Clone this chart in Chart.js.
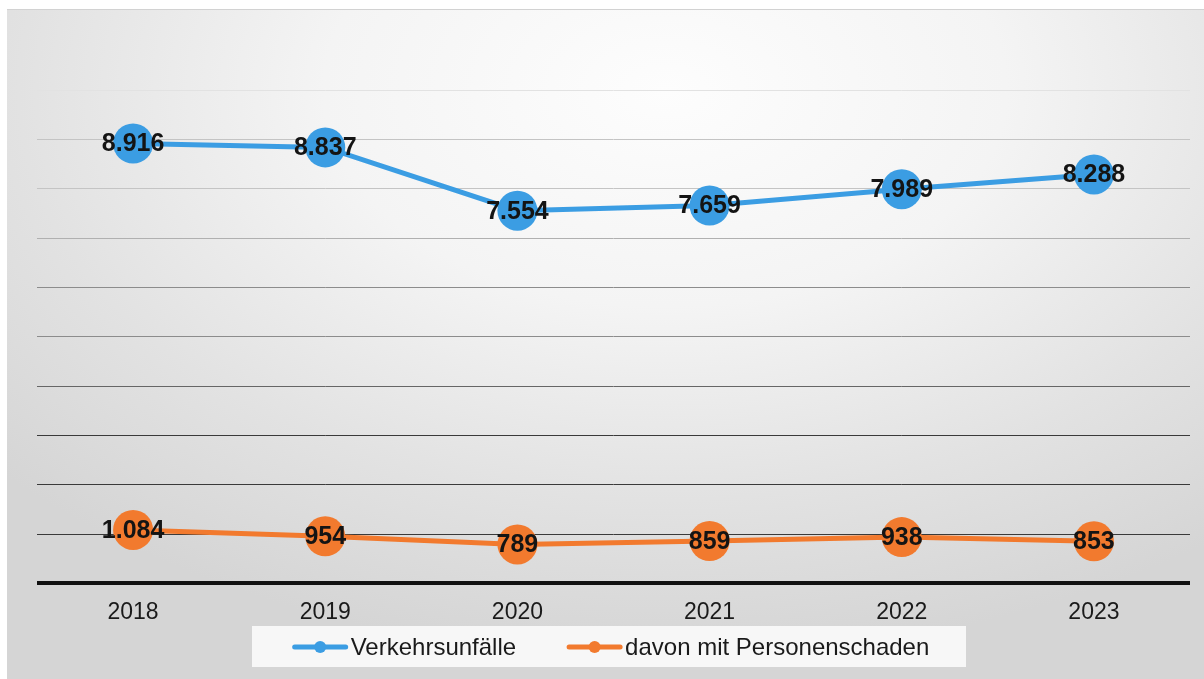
<!DOCTYPE html>
<html>
<head>
<meta charset="utf-8">
<script src="https://cdn.jsdelivr.net/npm/chart.js@4.4.1/dist/chart.umd.min.js"></script>
<style>
  html, body { margin: 0; padding: 0; background: #fff; }
  #wrap { position: relative; width: 1204px; height: 679px; overflow: hidden; }
  #paper {
    position: absolute; left: 7px; top: 9px; right: 0; bottom: 0;
    border-top: 1px solid #d2d2d2;
    background: radial-gradient(ellipse 75% 85% at 55% 12%, #fdfdfd 0%, #f4f4f4 38%, #e2e2e2 72%, #d5d5d5 100%);
  }
  #chart { position: absolute; left: 0; top: 0; }
</style>
</head>
<body>
<div id="wrap">
  <div id="paper"></div>
  <canvas id="chart" width="1204" height="679"></canvas>
</div>
<script>
  const years = ['2018', '2019', '2020', '2021', '2022', '2023'];
  const unfaelle = [8916, 8837, 7554, 7659, 7989, 8288];
  const personen = [1084, 954, 789, 859, 938, 853];
  const seriesNames = ['Verkehrsunfälle', 'davon mit Personenschaden'];
  const yMax = 10000;
  const yStep = 1000;

  const BLUE = '#3b9de3';
  const ORANGE = '#f27a2e';
  const FONT = '"Liberation Sans", Arial, sans-serif';

  function fmtDE(n) {
    return String(n).replace(/\B(?=(\d{3})+(?!\d))/g, '.');
  }

  function gridColor(v) {
    if (v === 0) return '#111';
    if (v >= 10000) return '#e2e2e2';
    if (v >= 8000) return '#c4c4c4';
    if (v >= 7000) return '#b0b0b0';
    if (v >= 5000) return '#8c8c8c';
    if (v >= 4000) return '#666';
    return '#3a3a3a';
  }

  // value labels centred on each marker
  const valueLabels = {
    id: 'valueLabels',
    afterDatasetsDraw(chart) {
      const ctx = chart.ctx;
      ctx.save();
      ctx.font = 'bold 25px ' + FONT;
      ctx.fillStyle = '#141414';
      ctx.textAlign = 'center';
      ctx.textBaseline = 'middle';
      chart.data.datasets.forEach((ds, i) => {
        chart.getDatasetMeta(i).data.forEach((pt, j) => {
          ctx.fillText(fmtDE(ds.data[j]), pt.x, pt.y + 1);
        });
      });
      ctx.restore();
    }
  };

  // legend in a light box under the axis
  const boxLegend = {
    id: 'boxLegend',
    afterDraw(chart) {
      const ctx = chart.ctx;
      ctx.save();
      ctx.fillStyle = '#f7f7f7';
      ctx.fillRect(252, 626, 714, 41);
      ctx.font = '24px ' + FONT;
      ctx.textBaseline = 'middle';
      const lineW = 55, gapTxt = 3, gapItem = 51;
      const items = chart.data.datasets.map(ds => ({
        label: ds.label, color: ds.borderColor, w: ctx.measureText(ds.label).width
      }));
      const total = items.reduce((s, it) => s + lineW + gapTxt + it.w, 0) + gapItem * (items.length - 1);
      let x = 611 - total / 2;
      const cy = 647;
      items.forEach(it => {
        ctx.strokeStyle = it.color;
        ctx.lineWidth = 5;
        ctx.lineCap = 'round';
        ctx.beginPath();
        ctx.moveTo(x + 2, cy);
        ctx.lineTo(x + lineW - 2, cy);
        ctx.stroke();
        ctx.fillStyle = it.color;
        ctx.beginPath();
        ctx.arc(x + lineW / 2, cy, 6, 0, Math.PI * 2);
        ctx.fill();
        ctx.fillStyle = '#1a1a1a';
        ctx.fillText(it.label, x + lineW + gapTxt, cy + 1);
        x += lineW + gapTxt + it.w + gapItem;
      });
      ctx.restore();
    }
  };

  new Chart(document.getElementById('chart'), {
    type: 'line',
    data: {
      labels: years,
      datasets: [
        {
          label: seriesNames[0],
          data: unfaelle,
          borderColor: BLUE,
          backgroundColor: BLUE,
          borderWidth: 5,
          pointRadius: 20,
          pointHoverRadius: 20,
          pointBorderWidth: 0,
          tension: 0
        },
        {
          label: seriesNames[1],
          data: personen,
          borderColor: ORANGE,
          backgroundColor: ORANGE,
          borderWidth: 5,
          pointRadius: 20,
          pointHoverRadius: 20,
          pointBorderWidth: 0,
          tension: 0
        }
      ]
    },
    options: {
      responsive: false,
      animation: false,
      devicePixelRatio: 1,
      layout: { autoPadding: false, padding: { left: 37, right: 14, top: 90, bottom: 38 } },
      plugins: {
        legend: { display: false },
        tooltip: { enabled: false }
      },
      scales: {
        x: {
          offset: true,
          grid: { display: false, drawTicks: false },
          border: { display: false },
          ticks: {
            padding: 15,
            color: '#1a1a1a',
            font: { family: FONT, size: 23 }
          }
        },
        y: {
          min: 0,
          max: yMax,
          ticks: { display: false, stepSize: yStep },
          border: { display: false },
          afterFit: s => { s.width = 0; },
          grid: {
            drawTicks: false,
            color: c => gridColor(c.tick.value),
            lineWidth: c => (c.tick.value === 0 ? 4 : 1)
          }
        }
      }
    },
    plugins: [valueLabels, boxLegend]
  });
</script>
</body>
</html>
